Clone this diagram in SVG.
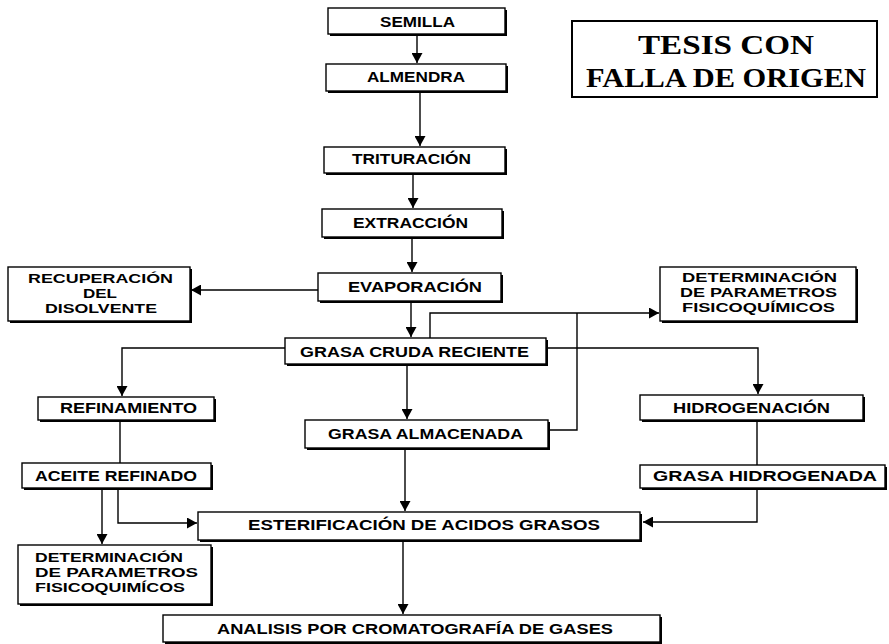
<svg xmlns="http://www.w3.org/2000/svg" width="889" height="644" viewBox="0 0 889 644">
<style>
.box{fill:#fff;stroke:#000;stroke-width:1.4}
.sh{fill:#000}
.t{font-family:"Liberation Sans",Arial,sans-serif;font-weight:bold;font-size:15px;fill:#000}
.m{font-size:13px}
.c{text-anchor:middle}
.conn path{fill:none;stroke:#000;stroke-width:1.4}
.stamp{font-family:"Liberation Serif","Times New Roman",serif;font-weight:bold;font-size:27px;fill:#000;text-anchor:middle}
</style>
<defs>
<marker id="ah" markerUnits="userSpaceOnUse" markerWidth="11" markerHeight="11" refX="10" refY="5.5" orient="auto">
<path d="M0,0 L10,5.5 L0,11 z" fill="#000"/>
</marker>
</defs>
<rect width="889" height="644" fill="#fff"/>

<g id="semilla"><rect class="sh" x="330" y="10" width="177" height="26"/><rect class="box" x="328" y="8" width="177" height="26"/><text class="t" x="380" y="27" textLength="75" lengthAdjust="spacingAndGlyphs">SEMILLA</text></g>
<g id="almendra"><rect class="sh" x="328" y="66" width="180" height="27"/><rect class="box" x="326" y="64" width="180" height="27"/><text class="t" x="367" y="82" textLength="98" lengthAdjust="spacingAndGlyphs">ALMENDRA</text></g>
<g id="trituracion"><rect class="sh" x="326" y="149" width="181" height="26"/><rect class="box" x="324" y="147" width="181" height="26"/><text class="t" x="352" y="164" textLength="119" lengthAdjust="spacingAndGlyphs">TRITURACIÓN</text></g>
<g id="extraccion"><rect class="sh" x="324" y="211" width="180" height="28"/><rect class="box" x="322" y="209" width="180" height="28"/><text class="t" x="353" y="228" textLength="115" lengthAdjust="spacingAndGlyphs">EXTRACCIÓN</text></g>
<g id="evaporacion"><rect class="sh" x="320" y="275" width="183" height="28"/><rect class="box" x="318" y="273" width="183" height="28"/><text class="t" x="348" y="292" textLength="134" lengthAdjust="spacingAndGlyphs">EVAPORACIÓN</text></g>
<g id="recuperacion"><rect class="sh" x="10" y="269" width="182" height="54"/><rect class="box" x="8" y="267" width="182" height="54"/>
<text class="t m" x="28" y="283" textLength="145" lengthAdjust="spacingAndGlyphs">RECUPERACIÓN</text>
<text class="t m c" x="100" y="298" textLength="34" lengthAdjust="spacingAndGlyphs">DEL</text>
<text class="t m" x="45" y="313" textLength="112" lengthAdjust="spacingAndGlyphs">DISOLVENTE</text></g>
<g id="determinacion1"><rect class="sh" x="662" y="269" width="196" height="54"/><rect class="box" x="660" y="267" width="196" height="54"/>
<text class="t m" x="682" y="282" textLength="155" lengthAdjust="spacingAndGlyphs">DETERMINACIÓN</text>
<text class="t m" x="680" y="297" textLength="157" lengthAdjust="spacingAndGlyphs">DE PARAMETROS</text>
<text class="t m" x="682" y="312" textLength="153" lengthAdjust="spacingAndGlyphs">FISICOQUÍMICOS</text></g>
<g id="grasa-cruda"><rect class="sh" x="287" y="340" width="261" height="26"/><rect class="box" x="285" y="338" width="261" height="26"/><text class="t" x="300" y="357" textLength="229" lengthAdjust="spacingAndGlyphs">GRASA CRUDA RECIENTE</text></g>
<g id="refinamiento"><rect class="sh" x="40" y="399" width="176" height="23"/><rect class="box" x="38" y="397" width="176" height="23"/><text class="t" x="60" y="413" textLength="137" lengthAdjust="spacingAndGlyphs">REFINAMIENTO</text></g>
<g id="hidrogenacion"><rect class="sh" x="642" y="397" width="223" height="25"/><rect class="box" x="640" y="395" width="223" height="25"/><text class="t" x="673" y="413" textLength="157" lengthAdjust="spacingAndGlyphs">HIDROGENACIÓN</text></g>
<g id="grasa-almacenada"><rect class="sh" x="307" y="422" width="243" height="28"/><rect class="box" x="305" y="420" width="243" height="28"/><text class="t" x="328" y="439" textLength="195" lengthAdjust="spacingAndGlyphs">GRASA ALMACENADA</text></g>
<g id="aceite-refinado"><rect class="sh" x="24" y="465" width="189" height="25"/><rect class="box" x="22" y="463" width="189" height="25"/><text class="t" x="35" y="481" textLength="162" lengthAdjust="spacingAndGlyphs">ACEITE REFINADO</text></g>
<g id="grasa-hidrogenada"><rect class="sh" x="642" y="467" width="245" height="23"/><rect class="box" x="640" y="465" width="245" height="23"/><text class="t" x="653" y="481" textLength="224" lengthAdjust="spacingAndGlyphs">GRASA  HIDROGENADA</text></g>
<g id="esterificacion"><rect class="sh" x="200" y="514" width="442" height="28"/><rect class="box" x="198" y="512" width="442" height="28"/><text class="t" x="248" y="530" textLength="352" lengthAdjust="spacingAndGlyphs">ESTERIFICACIÓN DE ACIDOS GRASOS</text></g>
<g id="determinacion2"><rect class="sh" x="20" y="547" width="193" height="59"/><rect class="box" x="18" y="545" width="193" height="59"/>
<text class="t m" x="35" y="562" textLength="148" lengthAdjust="spacingAndGlyphs">DETERMINACIÓN</text>
<text class="t m" x="35" y="577" textLength="163" lengthAdjust="spacingAndGlyphs">DE PARAMETROS</text>
<text class="t m" x="35" y="592" textLength="150" lengthAdjust="spacingAndGlyphs">FISICOQUIMÍCOS</text></g>
<g id="analisis"><rect class="sh" x="165" y="617" width="497" height="27"/><rect class="box" x="163" y="615" width="497" height="27"/><text class="t" x="217" y="634" textLength="396" lengthAdjust="spacingAndGlyphs">ANALISIS POR CROMATOGRAFÍA DE GASES</text></g>

<g id="stamp"><rect x="572" y="21" width="305" height="76" fill="#fff" stroke="#000" stroke-width="2"/>
<text class="stamp" x="726" y="54" textLength="176" lengthAdjust="spacingAndGlyphs">TESIS CON</text>
<text class="stamp" x="726" y="87" textLength="280" lengthAdjust="spacingAndGlyphs">FALLA DE ORIGEN</text></g>

<g id="connectors" class="conn">
<path d="M417,34 V63" marker-end="url(#ah)"/>
<path d="M420,91 V146" marker-end="url(#ah)"/>
<path d="M413,173 V208" marker-end="url(#ah)"/>
<path d="M412,237 V272" marker-end="url(#ah)"/>
<path d="M318,290 H191" marker-end="url(#ah)"/>
<path d="M411,301 V337" marker-end="url(#ah)"/>
<path d="M430,338 V313 H659" marker-end="url(#ah)"/>
<path d="M285,348 H122 V396" marker-end="url(#ah)"/>
<path d="M548,348 H758 V394" marker-end="url(#ah)"/>
<path d="M407,364 V419" marker-end="url(#ah)"/>
<path d="M550,430 H577 V313"/>
<path d="M405,448 V511" marker-end="url(#ah)"/>
<path d="M120,420 V463"/>
<path d="M102,488 V544" marker-end="url(#ah)"/>
<path d="M118,488 V523 H197" marker-end="url(#ah)"/>
<path d="M757,420 V465"/>
<path d="M757,488 V522 H643" marker-end="url(#ah)"/>
<path d="M403,540 V614" marker-end="url(#ah)"/>
</g>
</svg>
